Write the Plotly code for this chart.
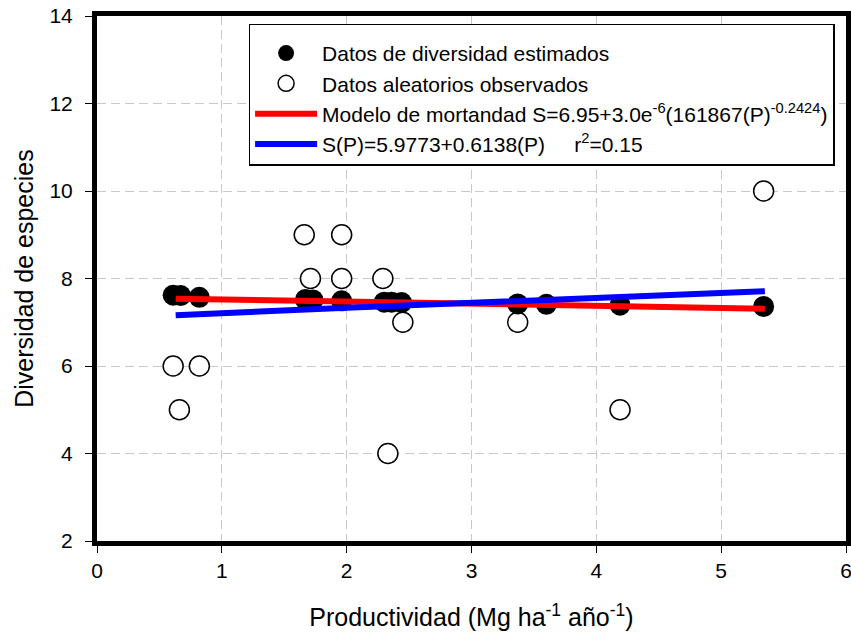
import plotly.graph_objects as go

# Productividad (Mg ha-1 año-1) y diversidad estimada por el modelo
prod_est = [0.61, 0.67, 0.82, 1.67, 1.73, 1.96, 2.30, 2.36, 2.44, 3.37, 3.60, 4.19, 5.34]
div_est = [7.62, 7.61, 7.57, 7.52, 7.51, 7.49, 7.46, 7.46, 7.45, 7.42, 7.41, 7.39, 7.36]

# Datos aleatorios observados
prod_obs = [0.61, 0.66, 0.82, 1.66, 1.71, 1.96, 1.96, 2.29, 2.33, 2.45, 3.37, 4.19, 5.34]
div_obs = [6, 5, 6, 9, 8, 9, 8, 8, 4, 7, 7, 5, 10]

# Curva del modelo de mortandad
prod_mod = [0.63, 2.00, 3.50, 5.35]
div_mod = [7.54, 7.47, 7.40, 7.31]

# Ajuste lineal S(P)
prod_lin = [0.63, 2.00, 5.35]
div_lin = [7.16, 7.33, 7.71]

x_ticks = [0, 1, 2, 3, 4, 5, 6]
y_ticks = [2, 4, 6, 8, 10, 12, 14]

FONT = "Liberation Sans, Arial, sans-serif"
NB = "\u00a0"

fig = go.Figure()

fig.add_trace(go.Scatter(
    x=prod_obs, y=div_obs, mode="markers",
    name="Datos aleatorios observados", legendrank=2, legendgroup="g2",
    marker=dict(size=20, color="white", line=dict(color="black", width=1.5)),
))
fig.add_trace(go.Scatter(
    x=prod_est, y=div_est, mode="markers",
    name="Datos de diversidad estimados", legendrank=1, legendgroup="g1",
    marker=dict(size=21, color="black", line=dict(color="black", width=0)),
))
fig.add_trace(go.Scatter(
    x=prod_mod, y=div_mod, mode="lines",
    name="Modelo de mortandad S=6.95+3.0e<sup>-6</sup>(161867(P)<sup>-0.2424</sup>)",
    legendrank=3, legendgroup="g3",
    line=dict(color="#ff0000", width=6),
))
fig.add_trace(go.Scatter(
    x=prod_lin, y=div_lin, mode="lines",
    name="S(P)=5.9773+0.6138(P)" + NB * 5 + "r<sup>2</sup>=0.15",
    legendrank=4, legendgroup="g4",
    line=dict(color="#0000ff", width=6),
))

axis_common = dict(
    showline=True, linewidth=5, linecolor="black", mirror=True,
    ticks="outside", ticklen=7, tickwidth=1, tickcolor="black",
    showgrid=True, gridcolor="#c8c8c8", gridwidth=1, griddash="9px,5px",
    zeroline=False, automargin=False, ticklabeloverflow="allow",
    tickfont=dict(family=FONT, size=21, color="black"),
)

fig.update_layout(
    width=851, height=633,
    margin=dict(l=97, r=5, t=16, b=92),
    paper_bgcolor="white", plot_bgcolor="white",
    font=dict(family=FONT, color="black"),
    showlegend=True,
    legend=dict(
        x=0.2024, y=0.9855, xanchor="left", yanchor="top",
        bgcolor="white", bordercolor="black", borderwidth=1.5,
        font=dict(family=FONT, size=21, color="black"),
        itemwidth=62, traceorder="grouped", tracegroupgap=0,
        title=dict(text=NB, font=dict(size=6)),
    ),
    xaxis=dict(
        range=[0, 6], tickvals=x_ticks,
        title=dict(text="Productividad (Mg ha<sup>-1</sup> año<sup>-1</sup>)",
                   font=dict(family=FONT, size=25, color="black"), standoff=29),
        ticklabelstandoff=0,
        **axis_common,
    ),
    yaxis=dict(
        range=[2, 14], tickvals=y_ticks,
        title=dict(text="Diversidad de especies",
                   font=dict(family=FONT, size=25, color="black"), standoff=10),
        ticklabelstandoff=8,
        **axis_common,
    ),
)

fig.write_html("out.html")
